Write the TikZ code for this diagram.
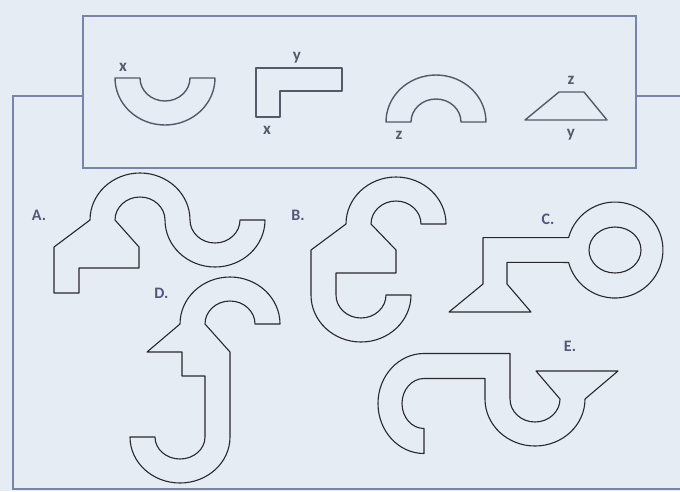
\documentclass[tikz,border=0pt]{standalone}
\usepackage{fontspec}
\setmainfont{Carlito}
\usepackage{xcolor}
\definecolor{Paper}{RGB}{230, 236, 244}
\definecolor{FrameBlue}{RGB}{122, 132, 170}
\definecolor{InkGrey}{RGB}{40, 40, 45}
\definecolor{SoftInk}{RGB}{85, 90, 105}
\definecolor{TagBlue}{RGB}{80, 88, 120}

\begin{document}
\begin{tikzpicture}[
    x=1pt, y=-1pt,
    frame/.style={draw=FrameBlue, line width=1.7pt},
    sample/.style={draw=SoftInk, line width=1.4pt, line join=round},
    piece/.style={draw=InkGrey, line width=1.1pt, line join=round},
    tag/.style={anchor=base, text=TagBlue, font=\bfseries\fontsize{16}{18}\selectfont, inner sep=0pt},
    side/.style={anchor=base, text=SoftInk, font=\bfseries\fontsize{17}{18}\selectfont, inner sep=0pt}
]

\fill[Paper] (0,0) rectangle (680,491);
\useasboundingbox (0,0) rectangle (680,491);

% Frames
\draw[frame] (13,96) rectangle (700,489);
\draw[frame, fill=Paper] (83,16) rectangle (636,168);

% Given pieces
\draw[sample] (115,78) arc[start angle=180, end angle=360, x radius=50pt, y radius=47pt]
    -- (190,78) arc[start angle=0, end angle=-180, x radius=25pt, y radius=23pt] -- cycle;
\node[side] (ux) at (123,71.5) {x};

\draw[sample] (256,68) -- (342,68) -- (342,91) -- (280,91) -- (280,117) -- (256,117) -- cycle;
\node[side] (ly) at (297,60) {y};
\node[side] (lx) at (267,134) {x};

\draw[sample] (386,122) arc[start angle=180, end angle=0, x radius=50pt, y radius=47pt]
    -- (461,122) arc[start angle=0, end angle=180, x radius=25pt, y radius=23pt] -- cycle;
\node[side] (az) at (399,139) {z};

\draw[sample] (525,120) -- (607,120) -- (584,92) -- (559,92) -- cycle;
\node[side] (tz) at (571,84) {z};
\node[side] (ty) at (571,137) {y};

% Figure A
\draw[piece] (54,247) -- (54,293) -- (79,293) -- (79,268) -- (139,268) -- (139,247)
    -- (115,220) arc[start angle=180, end angle=0, x radius=25pt, y radius=23pt]
    arc[start angle=180, end angle=360, x radius=50pt, y radius=47pt]
    -- (240,220) arc[start angle=0, end angle=-180, x radius=25pt, y radius=23pt]
    arc[start angle=0, end angle=180, x radius=50pt, y radius=47pt] -- cycle;
\node[tag] (labA) at (39,220) {A.};

% Figure B
\draw[piece] (311,250) -- (346,224) arc[start angle=180, end angle=0, x radius=50pt, y radius=47pt]
    -- (421,224) arc[start angle=0, end angle=180, x radius=25pt, y radius=23pt]
    -- (396,250) -- (396,273) -- (336,273)
    -- (336,295) arc[start angle=180, end angle=360, x radius=25pt, y radius=23pt]
    -- (411,295) arc[start angle=0, end angle=-180, x radius=50pt, y radius=47pt] -- cycle;
\node[tag] (labB) at (298,220) {B.};

% Figure C
\draw[piece] (483,237.6) -- (568.6,237.6) arc[start angle=165, end angle=-165, radius=48pt]
    -- (507,262.4) -- (507,284) -- (531,312) -- (449,312) -- (483,284) -- cycle;
\draw[piece] (615,250) ellipse[x radius=26pt, y radius=23pt];
\node[tag] (labC) at (548,224) {C.};

% Figure D
\draw[piece] (180,324) arc[start angle=180, end angle=0, x radius=50pt, y radius=47pt]
    -- (255,324) arc[start angle=0, end angle=180, x radius=25pt, y radius=23pt]
    -- (230,352) -- (230,437) arc[start angle=0, end angle=-180, x radius=50pt, y radius=46pt]
    -- (155,437) arc[start angle=180, end angle=360, x radius=25pt, y radius=22pt]
    -- (205,376) -- (182,376) -- (182,352) -- (147,352) -- cycle;
\node[tag] (labD) at (161.5,298) {D.};

% Figure E
\draw[piece] (424,353.5) -- (510,353.5)
    -- (510,399) arc[start angle=180, end angle=360, x radius=25pt, y radius=23pt]
    -- (536,371) -- (618,371)
    -- (585,399) arc[start angle=0, end angle=-180, x radius=50pt, y radius=47pt]
    -- (485,378.5) -- (424,378.5) arc[start angle=90, end angle=270, x radius=22pt, y radius=25pt]
    -- (424,453.5) arc[start angle=270, end angle=90, x radius=46pt, y radius=50pt] -- cycle;
\node[tag] (labE) at (570,351) {E.};

\end{tikzpicture}
\end{document}
